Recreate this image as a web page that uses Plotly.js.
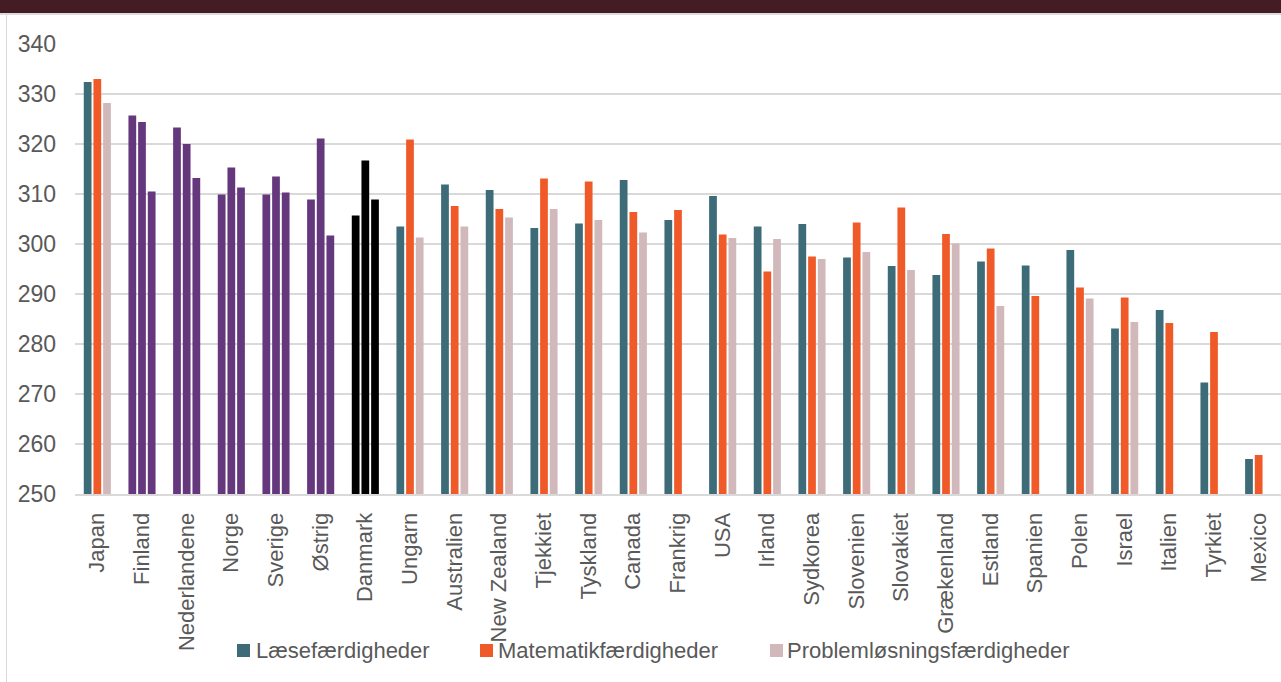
<!DOCTYPE html>
<html>
<head>
<meta charset="utf-8">
<script src="https://cdn.plot.ly/plotly-3.0.1.min.js"></script>
<style>
  html, body { margin: 0; padding: 0; background: #ffffff; }
  #wrap { position: relative; width: 1281px; height: 682px; overflow: hidden; }
  #chart { position: absolute; left: 0; top: 0; width: 1281px; height: 682px; }
  #header { position: absolute; left: 0; top: 0; width: 1281px; height: 13px; background: #441c24; z-index: 5; }
  #headerline { position: absolute; left: 0; top: 13px; width: 1281px; height: 2px; background: #dcdcdc; z-index: 5; }
  #leftline { position: absolute; left: 6px; top: 15px; width: 1px; height: 667px; background: #d9d9d9; z-index: 5; }
</style>
</head>
<body>
<div id="wrap">
  <div id="chart"></div>
  <div id="header"></div>
  <div id="headerline"></div>
  <div id="leftline"></div>
</div>
<script>
// ---- data ----
const countries = ['Japan','Finland','Nederlandene','Norge','Sverige','Østrig','Danmark','Ungarn','Australien','New Zealand','Tjekkiet','Tyskland','Canada','Frankrig','USA','Irland','Sydkorea','Slovenien','Slovakiet','Grækenland','Estland','Spanien','Polen','Israel','Italien','Tyrkiet','Mexico'];
const seriesNames = ['Læsefærdigheder','Matematikfærdigheder','Problemløsningsfærdigheder'];
const laese     = [332.4,325.7,323.3,309.9,309.9,308.9,305.7,303.5,311.9,310.8,303.2,304.1,312.8,304.8,309.6,303.5,304.0,297.3,295.6,293.8,296.5,295.7,298.8,283.1,286.8,272.3,257.0];
const matematik = [333.0,324.4,320.0,315.3,313.5,321.1,316.7,320.9,307.6,307.0,313.1,312.5,306.4,306.8,301.9,294.5,297.5,304.3,307.3,302.0,299.1,289.6,291.3,289.3,284.2,282.4,257.8];
const problem   = [328.2,310.5,313.2,311.3,310.3,301.7,308.9,301.3,303.5,305.3,307.0,304.8,302.3,null,301.2,301.0,297.0,298.4,294.8,300.1,287.6,null,289.1,284.4,null,null,null];
// highlight group of each country: 'std' = series colours, 'nordic' = purple, 'dk' = black
const groups = ['std','nordic','nordic','nordic','nordic','nordic','dk','std','std','std','std','std','std','std','std','std','std','std','std','std','std','std','std','std','std','std','std'];
const yTicks = [250,260,270,280,290,300,310,320,330,340];

// ---- style ----
const seriesColors = ['#3d6b78','#f05a28','#d0b8bb'];
const groupColors = { nordic: '#65387d', dk: '#000000' };
const textColor = '#595959';
const fontFam = '"Liberation Sans", Arial, Helvetica, sans-serif';

const seriesValues = [laese, matematik, problem];
const traces = seriesValues.map((vals, i) => ({
  type: 'bar',
  name: seriesNames[i],
  x: countries,
  y: vals,
  marker: {
    color: groups.map(g => g === 'std' ? seriesColors[i] : groupColors[g]),
    line: { width: 0 }
  },
  showlegend: false,
  hoverinfo: 'x+y+name'
}));

// plot geometry (pixels)
const W = 1281, H = 682, ML = 75, MR = 0, MT = 43, MB = 188;
const pw = W - ML - MR, ph = H - MT - MB;
const px2x = p => (p - ML) / pw;
const py2y = p => (H - MB - p) / ph;

// manual legend
const legendLeft = [237, 480, 770];
const legendTextLeft = [254, 496, 785];
const shapes = [], annotations = [];
seriesNames.forEach((n, i) => {
  shapes.push({
    type: 'rect', xref: 'paper', yref: 'paper',
    x0: px2x(legendLeft[i]), x1: px2x(legendLeft[i] + 13),
    y0: py2y(657), y1: py2y(644),
    fillcolor: seriesColors[i], line: { width: 0 }
  });
  annotations.push({
    xref: 'paper', yref: 'paper',
    x: px2x(legendTextLeft[i]), y: py2y(650),
    xanchor: 'left', yanchor: 'middle',
    text: n, showarrow: false,
    font: { family: fontFam, size: 22, color: textColor }
  });
});

const layout = {
  width: W, height: H,
  margin: { l: ML, r: MR, t: MT, b: MB, pad: 0 },
  paper_bgcolor: '#ffffff',
  plot_bgcolor: '#ffffff',
  barmode: 'group',
  bargap: 0.35,
  bargroupgap: 0.2,
  showlegend: false,
  font: { family: fontFam, color: textColor },
  xaxis: {
    type: 'category',
    tickangle: -90,
    tickfont: { family: fontFam, size: 22, color: textColor },
    ticks: '',
    ticklabelstandoff: 8,
    showgrid: false,
    showline: true,
    linecolor: '#d9d9d9',
    linewidth: 2,
    zeroline: false,
    automargin: false
  },
  yaxis: {
    range: [250, 340.2],
    tickvals: yTicks,
    ticktext: yTicks.map(String),
    tickfont: { family: fontFam, size: 23, color: textColor },
    ticks: '',
    ticklabelstandoff: 18,
    showgrid: true,
    gridcolor: '#d9d9d9',
    gridwidth: 2,
    zeroline: false,
    showline: false,
    automargin: false
  },
  shapes: shapes,
  annotations: annotations
};

Plotly.newPlot('chart', traces, layout, { displayModeBar: false, staticPlot: true });
</script>
</body>
</html>
